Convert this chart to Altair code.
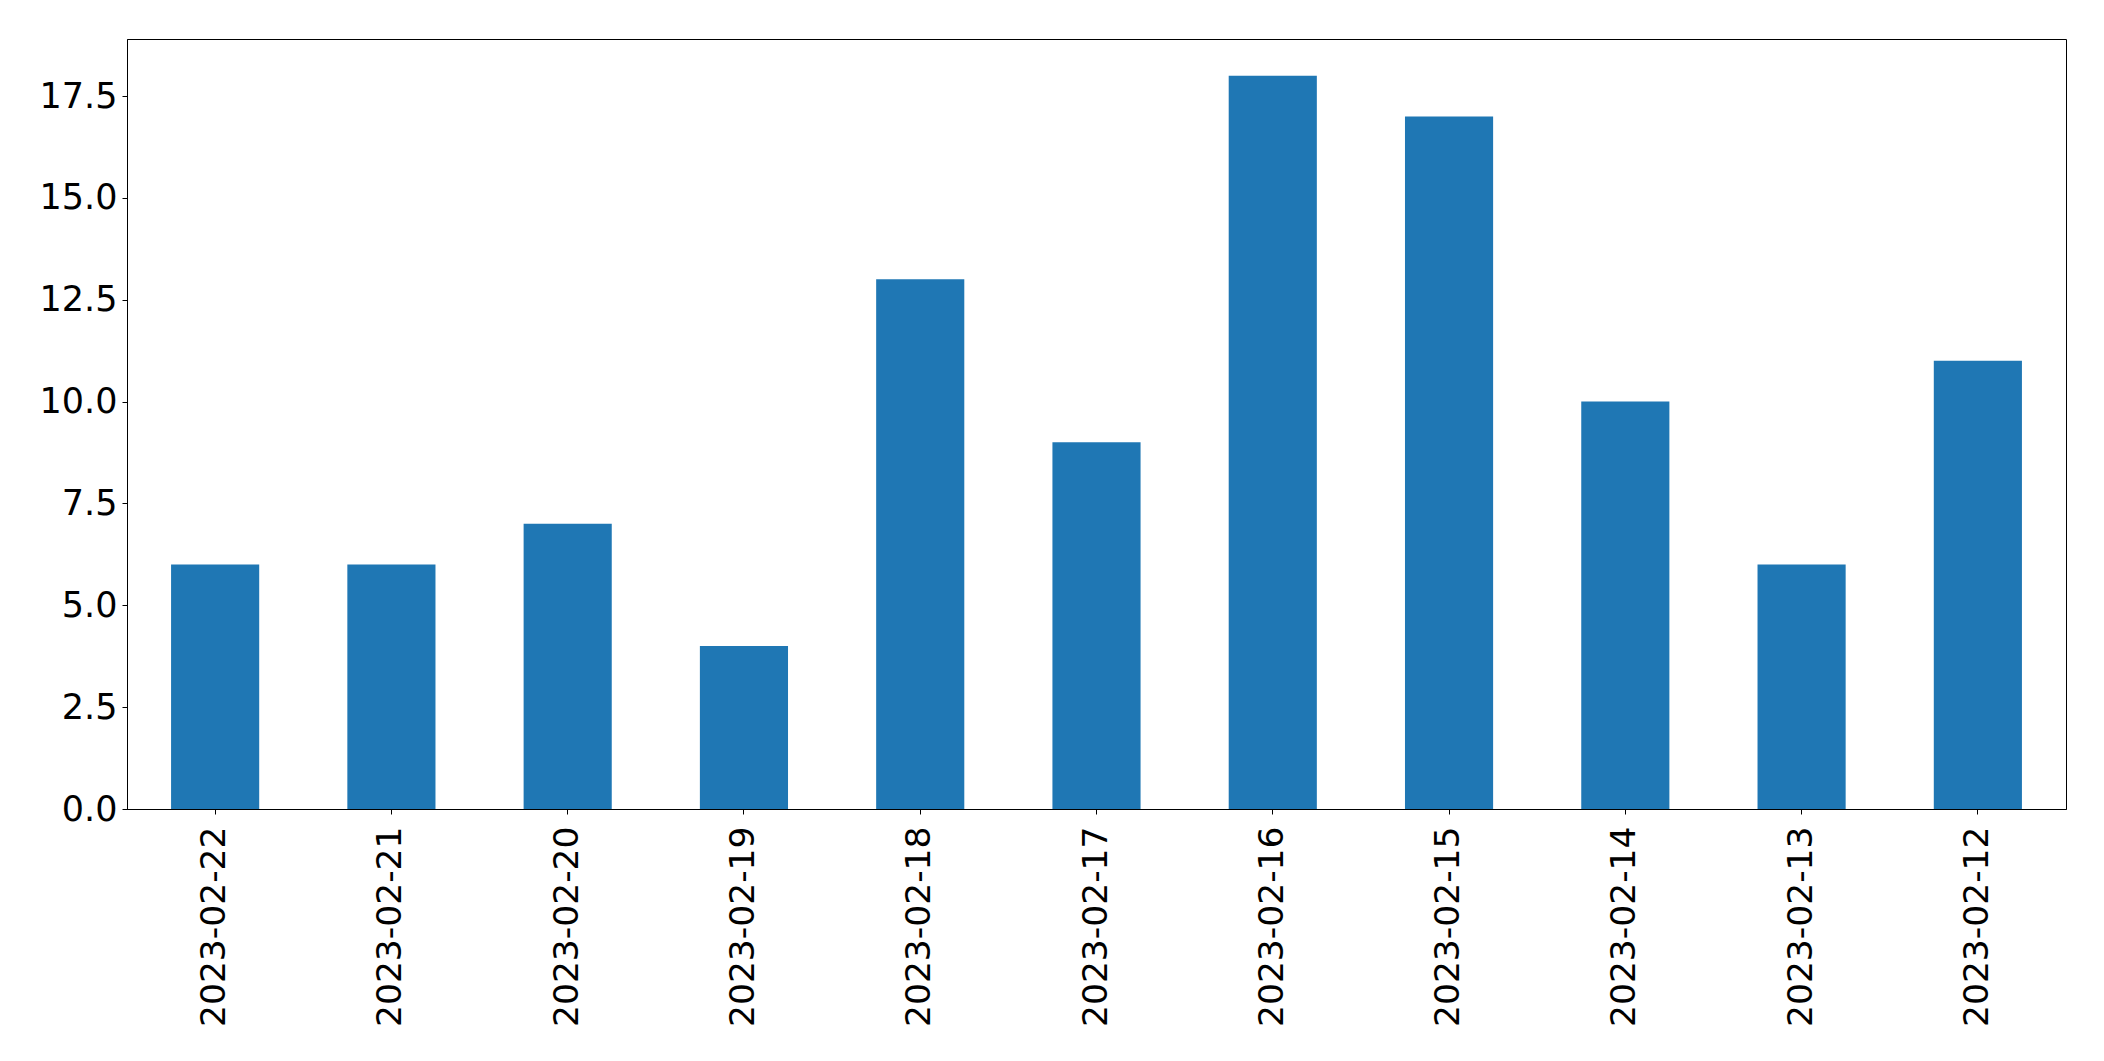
import altair as alt
import pandas as pd

dates = ["2023-02-22", "2023-02-21", "2023-02-20", "2023-02-19", "2023-02-18",
         "2023-02-17", "2023-02-16", "2023-02-15", "2023-02-14", "2023-02-13",
         "2023-02-12"]
counts = [6, 6, 7, 4, 13, 9, 18, 17, 10, 6, 11]
y_ticks = [0, 2.5, 5, 7.5, 10, 12.5, 15, 17.5]

df = pd.DataFrame({"date": dates, "count": counts})

chart = alt.Chart(df).mark_bar(color="#1f77b4").encode(
    x=alt.X("date:N", sort=dates, title=None,
            scale=alt.Scale(paddingInner=0.5, paddingOuter=0.25),
            axis=alt.Axis(labelAngle=270, labelFontSize=34.5, labelFont="DejaVu Sans",
                          labelColor="black", tickColor="black", tickSize=5,
                          domainColor="black", labelPadding=12, labelLimit=0)),
    y=alt.Y("count:Q", title=None,
            scale=alt.Scale(domain=[0, 18.9], nice=False),
            axis=alt.Axis(values=y_ticks, format=".1f", labelFontSize=35,
                          labelFont="DejaVu Sans", labelColor="black",
                          tickColor="black", tickSize=5, domainColor="black",
                          grid=False, labelPadding=5)),
).properties(
    width=1939, height=770,
    autosize=alt.AutoSizeParams(type="none"),
    padding={"left": 119, "top": 31, "right": 30, "bottom": 240},
).configure_view(stroke="black", strokeWidth=1).configure_axis(grid=False)

chart.save("out.html", embed_options={"renderer": "svg", "actions": False})
